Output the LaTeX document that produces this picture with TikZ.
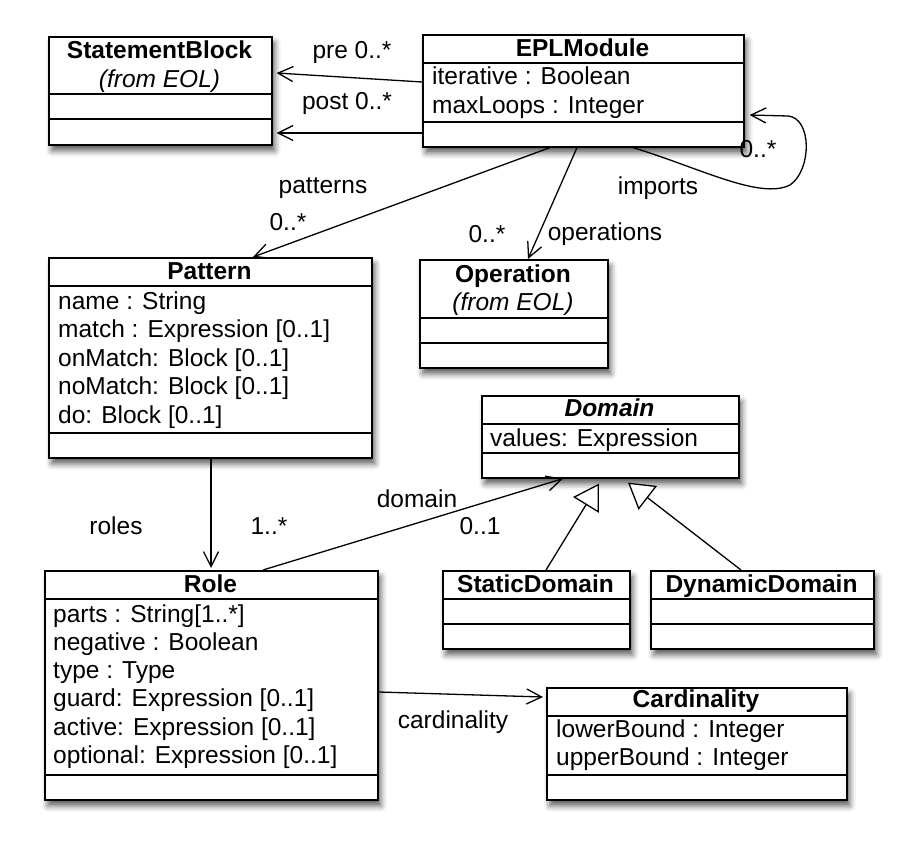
\documentclass[tikz,border=0pt]{standalone}
\usepackage{fontspec}
\setmainfont{Liberation Sans}
\usetikzlibrary{arrows.meta,calc,shadows.blur}
\newcommand{\umlfont}{\fontsize{24.5}{28.5}\selectfont}
\tikzset{
CLASS/.style={draw=black, fill=white, line width=1.6pt, anchor=north west, inner sep=0pt,
  blur shadow={shadow xshift=3pt, shadow yshift=-6pt, shadow blur radius=6pt, shadow opacity=65}},
COMP/.style={draw=black, line width=1.6pt},
TITLE/.style={font=\umlfont\bfseries, anchor=base, inner sep=0pt},
FROM/.style={font=\umlfont\itshape, anchor=base, inner sep=0pt},
ATTR/.style={font=\umlfont, anchor=base west, inner sep=0pt},
LABEL/.style={font=\umlfont, inner sep=0pt},
ASSOC/.style={draw=black, line width=1.3pt, -{Straight Barb[length=15pt,width=15pt,line width=1.3pt]}},
INHERIT/.style={draw=black, line width=1.3pt, -{Triangle[open,length=25pt,width=30pt,line width=1.3pt,fill=white]}},
}

\begin{document}
\begin{tikzpicture}[x=1pt, y=-1pt]
	\useasboundingbox (0,0) rectangle (912,850);
	% StatementBlock
	\node[CLASS, minimum width=223, minimum height=108] (sb) at (48,36) {};
	\draw[COMP] ($(sb.north west)+(0,58)$) -- ($(sb.north east)+(0,58)$);
	\draw[COMP] ($(sb.north west)+(0,83)$) -- ($(sb.north east)+(0,83)$);
	\node[TITLE] (sb-name) at (159.5,59) {StatementBlock};
	\node[FROM] (sb-from) at (159.5,88) {(from EOL)};
	% EPLModule
	\node[CLASS, minimum width=321, minimum height=112] (epl) at (422,34) {};
	\draw[COMP] ($(epl.north west)+(0,29)$) -- ($(epl.north east)+(0,29)$);
	\draw[COMP] ($(epl.north west)+(0,88)$) -- ($(epl.north east)+(0,88)$);
	\node[TITLE] (epl-name) at (582.5,57) {EPLModule};
	\node[ATTR] (epl-a0) at (432,85) {iterative : Boolean};
	\node[ATTR] (epl-a1) at (432,114) {maxLoops : Integer};
	% Pattern
	\node[CLASS, minimum width=323, minimum height=200] (pat) at (48,257) {};
	\draw[COMP] ($(pat.north west)+(0,29)$) -- ($(pat.north east)+(0,29)$);
	\draw[COMP] ($(pat.north west)+(0,176)$) -- ($(pat.north east)+(0,176)$);
	\node[TITLE] (pat-name) at (209.5,279) {Pattern};
	\foreach \txt [count=\i from 0] in {name : String, match : Expression [0..1], onMatch: Block [0..1], noMatch: Block [0..1], do: Block [0..1]}
		\node[ATTR] (pat-a\i) at (58,309+28.5*\i) {\txt};
	% Operation
	\node[CLASS, minimum width=188, minimum height=108] (op) at (419,259) {};
	\draw[COMP] ($(op.north west)+(0,59)$) -- ($(op.north east)+(0,59)$);
	\draw[COMP] ($(op.north west)+(0,84)$) -- ($(op.north east)+(0,84)$);
	\node[TITLE] (op-name) at (513,282) {Operation};
	\node[FROM] (op-from) at (513,310) {(from EOL)};
	% Domain
	\node[CLASS, minimum width=257, minimum height=82] (dom) at (481,395) {};
	\draw[COMP] ($(dom.north west)+(0,29)$) -- ($(dom.north east)+(0,29)$);
	\draw[COMP] ($(dom.north west)+(0,58)$) -- ($(dom.north east)+(0,58)$);
	\node[TITLE, font=\umlfont\bfseries\itshape] (dom-name) at (609.5,416) {Domain};
	\node[ATTR] (dom-a0) at (490,446) {values: Expression};
	% Role
	\node[CLASS, minimum width=333, minimum height=229] (role) at (44,570) {};
	\draw[COMP] ($(role.north west)+(0,29)$) -- ($(role.north east)+(0,29)$);
	\draw[COMP] ($(role.north west)+(0,205)$) -- ($(role.north east)+(0,205)$);
	\node[TITLE] (role-name) at (210.5,592) {Role};
	\foreach \txt [count=\i from 0] in {parts : String[1..*], negative : Boolean, type : Type, guard: Expression [0..1], active: Expression [0..1], optional: Expression [0..1]}
		\node[ATTR] (role-a\i) at (53,622+28.3*\i) {\txt};
	% StaticDomain
	\node[CLASS, minimum width=187, minimum height=78] (sd) at (442,570) {};
	\draw[COMP] ($(sd.north west)+(0,29)$) -- ($(sd.north east)+(0,29)$);
	\draw[COMP] ($(sd.north west)+(0,54)$) -- ($(sd.north east)+(0,54)$);
	\node[TITLE] (sd-name) at (535.5,592) {StaticDomain};
	% DynamicDomain
	\node[CLASS, minimum width=223, minimum height=78] (dd) at (650,570) {};
	\draw[COMP] ($(dd.north west)+(0,29)$) -- ($(dd.north east)+(0,29)$);
	\draw[COMP] ($(dd.north west)+(0,54)$) -- ($(dd.north east)+(0,54)$);
	\node[TITLE] (dd-name) at (761.5,592) {DynamicDomain};
	% Cardinality
	\node[CLASS, minimum width=300, minimum height=112] (card) at (546,687) {};
	\draw[COMP] ($(card.north west)+(0,29)$) -- ($(card.north east)+(0,29)$);
	\draw[COMP] ($(card.north west)+(0,88)$) -- ($(card.north east)+(0,88)$);
	\node[TITLE] (card-name) at (696,707) {Cardinality};
	\node[ATTR] (card-a0) at (556,737) {lowerBound : Integer};
	\node[ATTR] (card-a1) at (556,765) {upperBound : Integer};
	% associations
	\path[ASSOC] ($(epl.north west)+(0,48)$) -- ($(sb.north east)+(4,37)$);
	\path[ASSOC] ($(epl.north west)+(0,99)$) -- ($(sb.north east)+(4,97)$);
	\node[LABEL] (pre-lbl) at (352,52) {pre 0..*};
	\node[LABEL] (post-lbl) at (347,103) {post 0..*};
	\path[ASSOC] ($(epl.south west)+(211,0)$) .. controls (700,168) and (760,200) .. (790,185)
		.. controls (812,170) and (812,118) .. (788,116) -- ($(epl.north east)+(5,81)$);
	\node[LABEL] (imp-mult) at (758,149) {0..*};
	\node[LABEL] (imp-lbl) at (658,188) {imports};
	\path[ASSOC] ($(epl.south west)+(128,0)$) -- ($(pat.north west)+(205,0)$);
	\node[LABEL] (pat-lbl) at (323,188) {patterns};
	\node[LABEL] (pat-mult) at (288,222) {0..*};
	\path[ASSOC] ($(epl.south west)+(155,0)$) -- ($(op.north west)+(109,0)$);
	\node[LABEL] (op-mult) at (487,234) {0..*};
	\node[LABEL] (op-lbl) at (605,234) {operations};
	\path[ASSOC] ($(pat.south west)+(163,0)$) -- ($(role.north west)+(167,-2)$);
	\node[LABEL] (roles-lbl) at (116,526) {roles};
	\node[LABEL] (roles-mult) at (269,526) {1..*};
	\path[ASSOC] ($(role.north west)+(219,0)$) -- ($(dom.south west)+(82,0)$);
	\node[LABEL] (dom-lbl) at (417,499) {domain};
	\node[LABEL] (dom-mult) at (480,526) {0..1};
	\path[INHERIT] ($(sd.north west)+(104,0)$) -- ($(dom.south west)+(118,5)$);
	\path[INHERIT] ($(dd.north west)+(91,0)$) -- ($(dom.south west)+(147,4)$);
	\path[ASSOC] ($(role.north east)+(0,122)$) -- ($(card.north west)+(-3,10)$);
	\node[LABEL] (card-lbl) at (453,722) {cardinality};
\end{tikzpicture}
\end{document}
